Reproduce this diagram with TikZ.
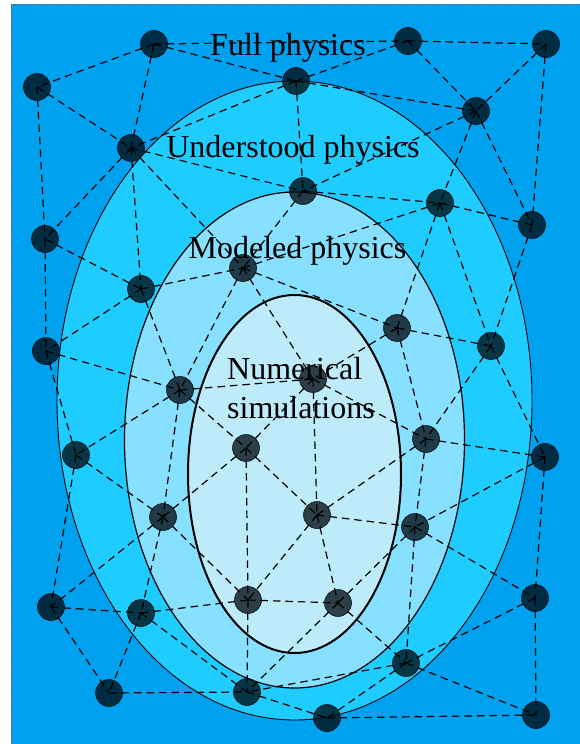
\documentclass[tikz,border=0pt]{standalone}
\usepackage{fontspec}
\setmainfont{Liberation Serif}
\definecolor{Sky}{RGB}{0,161,238}
\definecolor{Understood}{RGB}{30,204,255}
\definecolor{Modeled}{RGB}{135,224,255}
\definecolor{Numeric}{RGB}{190,235,250}
\definecolor{Dot}{RGB}{0,8,14}
\tikzset{
  site/.style={circle,draw=Dot,fill=Dot,fill opacity=0.76,draw opacity=0.9,minimum size=27pt,inner sep=0pt,line width=0.6pt},
  link/.style={draw=black,line width=1.2pt,dash pattern=on 7.5pt off 5pt},
  region/.style={draw=black,line width=#1},
  heading/.style={font=\fontsize{32}{39}\selectfont,inner sep=0pt,anchor=base}
}
\begin{document}
\begin{tikzpicture}[x=1pt,y=-1pt]
  \useasboundingbox (0,0) rectangle (579,744);
  \fill[white] (0,0) rectangle (579,744);
  \draw[fill=Sky,draw=black!60,densely dotted,line width=0.8pt] (11,4) rectangle (586,751);
  % nested regions
  \draw[region=0.9pt,fill=Understood] (294.5,400.5) ellipse [x radius=237.5pt,y radius=319.5pt];
  \draw[region=1.2pt,fill=Modeled] (294.5,440) ellipse [x radius=170pt,y radius=248pt];
  \draw[region=2pt,fill=Numeric] (294.5,474) ellipse [x radius=106.5pt,y radius=179pt];
  % sites
  \node[site] (p1) at (154,44) {};
  \node[site] (p2) at (37,87) {};
  \node[site] (p3) at (296,81) {};
  \node[site] (p4) at (408,41) {};
  \node[site] (p5) at (546,44) {};
  \node[site] (p6) at (476,111) {};
  \node[site] (p7) at (131,148) {};
  \node[site] (p8) at (303,191) {};
  \node[site] (p9) at (440,203) {};
  \node[site] (p10) at (45,239) {};
  \node[site] (p11) at (532,225) {};
  \node[site] (p12) at (141,289) {};
  \node[site] (p13) at (243,268) {};
  \node[site] (p14) at (46,351) {};
  \node[site] (p15) at (397,328) {};
  \node[site] (p16) at (491,346) {};
  \node[site] (p17) at (180,390) {};
  \node[site] (p18) at (313,379) {};
  \node[site] (p19) at (76,455) {};
  \node[site] (p20) at (246,448) {};
  \node[site] (p21) at (426,439) {};
  \node[site] (p22) at (545,457) {};
  \node[site] (p23) at (163,517) {};
  \node[site] (p24) at (317,515) {};
  \node[site] (p25) at (415,527) {};
  \node[site] (p26) at (51,607) {};
  \node[site] (p27) at (141,613) {};
  \node[site] (p28) at (248,600) {};
  \node[site] (p29) at (338,603) {};
  \node[site] (p30) at (535,598) {};
  \node[site] (p31) at (406,663) {};
  \node[site] (p32) at (109,693) {};
  \node[site] (p33) at (247,692) {};
  \node[site] (p34) at (327,718) {};
  \node[site] (p35) at (536,715) {};
  % links
  \foreach \a/\b in {1/2,1/3,1/4,1/7,2/7,2/10,3/4,3/6,3/7,3/8,4/5,4/6,5/6,5/11,
      6/8,6/9,6/11,7/8,7/10,7/12,7/13,8/9,8/13,9/11,9/13,9/15,9/16,10/12,10/14,
      11/16,12/13,12/14,12/17,13/15,13/17,13/18,14/17,14/19,15/16,15/18,15/21,
      16/21,16/22,17/18,17/19,17/20,17/23,18/20,18/21,18/24,19/23,19/26,
      20/23,20/24,20/28,21/22,21/24,21/25,22/25,22/30,23/26,23/27,23/28,
      24/25,24/28,24/29,25/29,25/30,25/31,26/27,26/32,27/28,27/32,27/33,
      28/29,28/33,29/31,29/33,30/31,30/35,31/33,31/34,31/35,32/33,33/34,34/35}
    \draw[link] (p\a.center) -- (p\b.center);
  % region names
  \node[heading] (full) at (288,55) {Full physics};
  \node[heading] (understood) at (293,157) {Understood physics};
  \node[heading] (modeled) at (297.5,258) {Modeled physics};
  \node[heading,anchor=base west] (numerical) at (227,379) {Numerical};
  \node[heading,anchor=base west] (simulations) at (227,418) {simulations};
\end{tikzpicture}
\end{document}
